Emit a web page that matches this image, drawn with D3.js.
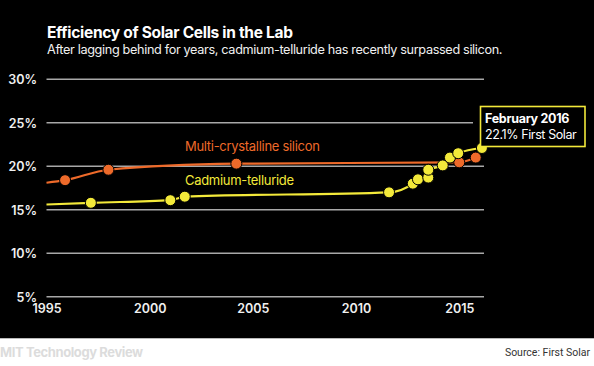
<!DOCTYPE html>
<html><head><meta charset="utf-8">
<script src="https://cdn.jsdelivr.net/npm/d3@7"></script>
<style>
html,body{margin:0;padding:0;background:#fff;}
svg{display:block;font-family:Inter,"Helvetica Neue",Arial,sans-serif;}
</style></head>
<body>
<svg id="c" width="594" height="366"></svg>
<script>
const yTicks = [5, 10, 15, 20, 25, 30];
const xTicks = [1995, 2000, 2005, 2010, 2015];
const siliconYears  = [1995, 1995.9, 1998, 2004.2, 2015, 2015.8];
const siliconValues = [18.1, 18.4, 19.6, 20.3, 20.45, 21.0];
const siliconMarked = [false, true, true, true, true, true];
const cdteYears  = [1995, 1997.15, 2001.0, 2001.7, 2011.6, 2012.75, 2013.0, 2013.5, 2013.5, 2014.2, 2014.55, 2014.95, 2016.1];
const cdteValues = [15.6, 15.8, 16.1, 16.5, 17.0, 18.0, 18.5, 18.7, 19.6, 20.1, 21.0, 21.5, 22.1];
const cdteMarked = [false, true, true, true, true, true, true, true, true, true, true, true, true];

const orange = "#ee6a2a", yellow = "#f3e93a";
const svg = d3.select("#c");
svg.append("rect").attr("x",0).attr("y",0).attr("width",594).attr("height",338).attr("fill","#000");
svg.append("line").attr("x1",0).attr("x2",594).attr("y1",338.5).attr("y2",338.5).attr("stroke","#bbb").attr("stroke-width",1);

const x = d3.scaleLinear().domain([1995, 2016.2]).range([46.5, 484]);
const y = d3.scaleLinear().domain([5, 30]).range([296.7, 79.3]);

// gridlines
const grid = svg.append("g");
yTicks.forEach(t => {
  grid.append("line").attr("x1", x(1995)).attr("x2", t === 25 ? 473 : x(2016.2))
    .attr("y1", y(t)).attr("y2", y(t)).attr("stroke", "#a8a8a8").attr("stroke-width", 1.5);
});
// y labels
const yAxis = d3.axisLeft(y).tickValues(yTicks).tickFormat(d => d + "%").tickSize(0).tickPadding(0);
const ya = svg.append("g").attr("transform", "translate(37,0)").call(yAxis);
ya.select(".domain").remove();
ya.selectAll("text").attr("fill", "#f0f0f0").attr("font-size", 12.5).attr("font-weight", 600)
  .attr("font-family", "Inter, sans-serif").attr("dy", "0.36em");
// x labels
const xAxis = d3.axisBottom(x).tickValues(xTicks).tickFormat(d3.format("d")).tickSize(0).tickPadding(0);
const xa = svg.append("g").attr("transform", "translate(0,304)").call(xAxis);
xa.select(".domain").remove();
xa.selectAll("text").attr("fill", "#f0f0f0").attr("font-size", 12.5).attr("font-weight", 600)
  .attr("font-family", "Inter, sans-serif").attr("dy", "0.71em");

function series(years, values, marked, color) {
  const pts = years.map((yr, i) => ({yr, v: values[i], m: marked[i]}));
  const line = d3.line().x(d => x(d.yr)).y(d => y(d.v)).curve(d3.curveMonotoneX);
  svg.append("path").datum(pts).attr("d", line).attr("fill", "none")
    .attr("stroke", color).attr("stroke-width", 2.2);
  svg.append("g").selectAll("circle").data(pts.filter(d => d.m)).join("circle")
    .attr("cx", d => x(d.yr)).attr("cy", d => y(d.v)).attr("r", 5.5)
    .attr("fill", color).attr("stroke", "#000").attr("stroke-width", 1);
}
series(siliconYears, siliconValues, siliconMarked, orange);
series(cdteYears, cdteValues, cdteMarked, yellow);

// series labels
svg.append("text").attr("x", 185).attr("y", 150.5).attr("fill", orange).attr("font-size", 13)
  .attr("letter-spacing", -0.3).text("Multi-crystalline silicon");
svg.append("text").attr("x", 185).attr("y", 185).attr("fill", yellow).attr("font-size", 13)
  .attr("letter-spacing", -0.3).text("Cadmium-telluride");

// annotation
svg.append("rect").attr("x", 480.5).attr("y", 106.5).attr("width", 104.5).attr("height", 40)
  .attr("fill", "#000").attr("stroke", yellow).attr("stroke-width", 1.6);
svg.append("text").attr("x", 485).attr("y", 123).attr("fill", "#fff").attr("font-size", 12.5)
  .attr("font-weight", 700).attr("letter-spacing", -0.3).text("February 2016");
svg.append("text").attr("x", 485).attr("y", 139).attr("fill", "#fff").attr("font-size", 12.5)
  .attr("letter-spacing", -0.4).text("22.1% First Solar");

// title
svg.append("text").attr("x", 47).attr("y", 37.5).attr("fill", "#fff").attr("font-size", 15.5)
  .attr("font-weight", 700).attr("letter-spacing", -0.3).text("Efficiency of Solar Cells in the Lab");
svg.append("text").attr("x", 47).attr("y", 53.5).attr("fill", "#f0f0f0").attr("font-size", 12.7)
  .attr("letter-spacing", -0.35).text("After lagging behind for years, cadmium-telluride has recently surpassed silicon.");

// footer
svg.append("text").attr("x", 0).attr("y", 357).attr("fill", "#dcdcdc").attr("font-size", 13)
  .attr("font-weight", 700).attr("letter-spacing", -0.4).text("MIT Technology Review");
svg.append("text").attr("x", 590).attr("y", 356).attr("text-anchor", "end").attr("fill", "#333")
  .attr("font-size", 10.5).attr("font-family", "Roboto, sans-serif").text("Source: First Solar");
</script>
</body></html>
